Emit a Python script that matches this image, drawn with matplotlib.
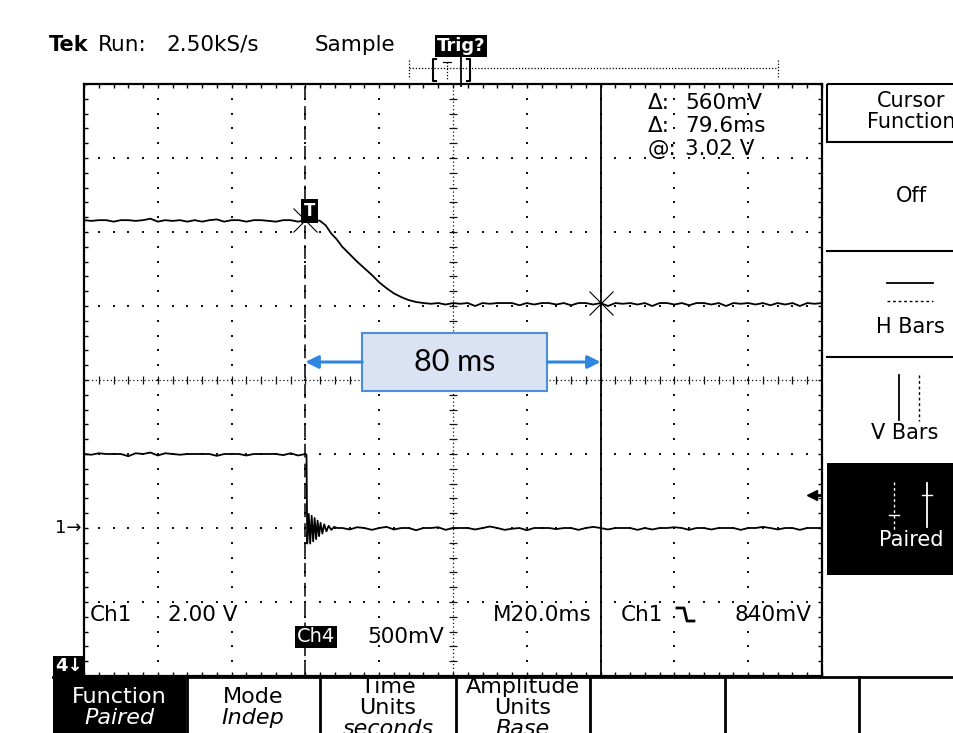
import numpy as np
import matplotlib.pyplot as plt
from matplotlib.patches import Rectangle

W, H = 954, 733

# --- waveform data ---
# Ch4 (500 mV/div, ground 5 div below centre), volts
ch4_pre = [3.58, 3.575, 3.58, 3.58, 3.57, 3.58, 3.58, 3.575, 3.58, 3.59,
           3.57, 3.58, 3.575, 3.58, 3.57, 3.58, 3.57, 3.58, 3.585, 3.57,
           3.58, 3.58, 3.57, 3.58, 3.58, 3.575, 3.57, 3.58, 3.58, 3.57]  # -60..-2 ms, 2 ms step
ch4_fall_t = [0, 2, 4, 5.5, 7, 8.5, 10, 12, 14, 16, 18, 20, 22, 24, 26, 28, 30, 32, 34, 36]
ch4_fall_v = [3.58, 3.585, 3.575, 3.545, 3.49, 3.45, 3.40, 3.35, 3.30, 3.255,
              3.21, 3.16, 3.12, 3.085, 3.06, 3.04, 3.027, 3.02, 3.015, 3.02]
ch4_post = [3.01, 3.02, 3.015, 3.02, 3.0, 3.02, 3.015, 3.02, 3.02, 3.02,
            3.005, 3.02, 3.01, 3.02, 3.02, 3.01, 3.02, 3.005, 3.02, 3.02,
            3.01, 3.02, 3.0, 3.02, 3.015, 3.02, 3.01, 3.02, 3.0, 3.02,
            3.02, 3.01, 3.02, 3.005, 3.02, 3.02, 3.01, 3.02, 3.0, 3.02,
            3.015, 3.02, 3.01, 3.02, 3.005, 3.02, 3.01, 3.02, 3.0, 3.02,
            3.015, 3.02]  # 38..140 ms

# Ch1 (2 V/div, ground 2 div below centre), volts
ch1_pre = [2.0, 1.98, 2.02, 2.0, 2.0, 2.0, 1.94, 2.02, 2.0, 2.04,
           1.96, 2.02, 2.0, 1.98, 2.0, 2.0, 2.0, 2.0, 1.95, 2.0,
           2.0, 2.0, 1.96, 2.0, 2.0, 2.0, 2.0, 1.97, 2.02, 1.96]  # -60..-2 ms
ch1_ring_t = [0, 0.3, 0.5, 0.9, 1.3, 1.7, 2.1, 2.5, 2.9, 3.3, 3.7, 4.1, 4.6, 5.1,
              5.7, 6.3, 7.0, 7.8, 8.6]
ch1_ring_v = [2.0, 1.98, -0.42, 0.38, -0.42, 0.33, -0.36, 0.27, -0.3, 0.2,
              -0.22, 0.14, -0.15, 0.1, -0.09, 0.06, -0.05, 0.03, 0.0]
ch1_post = [0.0, -0.04, 0.02, 0.0, -0.05, 0.0, 0.03, -0.04, 0.0, 0.0,
            -0.06, 0.0, 0.0, 0.02, -0.05, 0.0, 0.0, 0.0, -0.04, 0.0,
            0.04, 0.0, -0.05, -0.02, 0.0, -0.06, 0.0, 0.0, 0.0, -0.03,
            0.0, 0.0, -0.05, 0.0, 0.03, 0.0, -0.04, 0.0, 0.0, 0.0,
            -0.05, 0.0, -0.04, 0.0, 0.0, 0.02, 0.0, -0.05, 0.0, 0.0,
            -0.04, 0.0, 0.0, 0.0, -0.05, 0.0, 0.0, 0.03, 0.0, -0.04,
            0.0, 0.0, -0.05, 0.0, 0.0, 0.0]  # 10..140 ms

cursor_t = [0.0, 80.0]
cursor_v = [3.58, 3.02]
readout_sym = ["\u0394:", "\u0394:", "@:"]
readout_val = ["560mV", "79.6ms", "3.02 V"]
measured = "80 ms"

ch4_t = np.concatenate([-60 + 2 * np.arange(len(ch4_pre)), ch4_fall_t, 38 + 2 * np.arange(len(ch4_post))])
ch4_v = np.concatenate([ch4_pre, ch4_fall_v, ch4_post])
ch1_t = np.concatenate([-60 + 2 * np.arange(len(ch1_pre)), ch1_ring_t, 10 + 2 * np.arange(len(ch1_post))])
ch1_v = np.concatenate([ch1_pre, ch1_ring_v, ch1_post])

ch4_div = ch4_v / 0.5 - 5.0
ch1_div = ch1_v / 2.0 - 2.0

fig = plt.figure(figsize=(W / 100, H / 100), dpi=100)
fig.patch.set_facecolor("white")

# graticule: 10 x 8 divisions, 20 ms/div
ax = fig.add_axes([84 / W, (H - 676) / H, 738 / W, 592 / H])
ax.set_xlim(-60, 140)
ax.set_ylim(-4, 4)
for s in ax.spines.values():
    s.set_linewidth(1.6)
ax.set_xticks(np.arange(-60, 141, 20))
ax.set_yticks(np.arange(-4, 4.1, 1))
ax.set_xticks(np.arange(-60, 141, 4), minor=True)
ax.set_yticks(np.arange(-4, 4.1, 0.2), minor=True)
ax.tick_params(which="both", direction="in", top=True, right=True,
               labelbottom=False, labelleft=False, length=2.8, width=1)

dot = dict(ls="none", marker="s", ms=1.5, color="#111111", mew=0)
yd = np.arange(-3.8, 3.9, 0.2)
td = np.arange(-56, 137, 4)
for gx in [-40, -20, 0, 20, 60, 80, 100, 120]:
    ax.plot(np.full_like(yd, gx), yd, **dot)
for gy in [-3, -2, -1, 1, 2, 3]:
    ax.plot(td, np.full_like(td, gy, dtype=float), **dot)
# centre cross lines
ax.plot([40, 40], [-4, 4], ls=(0, (1, 2)), lw=0.9, color="#111111")
ax.plot(np.full_like(yd, 40), yd, ls="none", marker="_", ms=6, mew=0.9, color="#111111")
ax.plot([-60, 140], [0, 0], ls=(0, (1, 2)), lw=0.9, color="#111111")
ax.plot(td, np.zeros_like(td), ls="none", marker="|", ms=6, mew=0.9, color="#111111")

# traces
ax.plot(ch4_t, ch4_div, color="black", lw=1.3)
ax.plot(ch1_t, ch1_div, color="black", lw=1.3)

# cursors
ax.plot([cursor_t[0]] * 2, [-4, 4], color="black", lw=1.1, dashes=(9, 4))
ax.plot([cursor_t[1]] * 2, [-4, 4], color="black", lw=1.3)
ax.plot(cursor_t, np.array(cursor_v) / 0.5 - 5.0, ls="none", marker="x",
        ms=17, mew=0.8, color="black")

# trigger marker
ax.text(1.2, 2.28, "T", color="white", fontsize=12, fontweight="bold", ha="center",
        va="center", bbox=dict(facecolor="black", edgecolor="none", pad=2))

# blue measurement annotation
arrow_y = 0.243
ax.add_patch(Rectangle((15.4, -0.149), 50.2, 0.784, facecolor="#dae3f3",
                       edgecolor="#4a90d9", lw=1.5, zorder=5))
ax.text(40.5, arrow_y, measured, fontsize=22, family="Lato", ha="center",
        va="center", zorder=6)
ap = dict(arrowstyle="-|>", color="#2e86de", lw=2.2, mutation_scale=19,
          shrinkA=0, shrinkB=0)
ax.annotate("", xy=(cursor_t[0], arrow_y), xytext=(15.4, arrow_y), arrowprops=ap, zorder=6)
ax.annotate("", xy=(cursor_t[1], arrow_y), xytext=(65.6, arrow_y), arrowprops=ap, zorder=6)

# --- overlay in screen pixels for the surrounding scope UI ---
ov = fig.add_axes([0, 0, 1, 1], zorder=3)
ov.set_xlim(0, W)
ov.set_ylim(H, 0)
ov.axis("off")
ov.patch.set_alpha(0)


def tx(x, y, s, size=15.5, color="black", ha="left", **kw):
    ov.text(x, y, s, fontsize=size, color=color, ha=ha, va="center", **kw)


blk = dict(facecolor="black", edgecolor="none", pad=1.2)

# top status line
tx(49, 45, "Tek", 15, fontweight="bold")
tx(98, 45, "Run:", 15.5)
tx(166, 45, "2.50kS/s", 15.5)
tx(315, 45, "Sample", 15.5)
tx(437, 46, "Trig?", 13, color="white", fontweight="bold", bbox=blk)
ov.plot([409, 778], [68, 68], ls=(0, (1, 1.5)), lw=0.9, color="black")
ov.plot([409, 409], [60, 77], ls=(0, (1, 1.5)), lw=0.9, color="black")
ov.plot([778, 778], [60, 77], ls=(0, (1, 1.5)), lw=0.9, color="black")
ov.plot([436, 433, 433, 436], [59, 59, 81, 81], color="black", lw=1.5)
ov.plot([467, 470, 470, 467], [59, 59, 81, 81], color="black", lw=1.5)
ov.plot([447, 447], [62, 79], ls=(0, (1, 1.5)), lw=0.9, color="black")
ov.plot([443, 451], [62, 62], color="black", lw=0.9)
ov.plot([461, 461], [57, 86], color="black", lw=1.3)

# cursor readout
for i in range(len(readout_val)):
    tx(648, 103 + 23 * i, readout_sym[i])
    tx(685, 103 + 23 * i, readout_val[i])

# channel labels inside graticule
tx(90, 615, "Ch1")
tx(168, 615, "2.00 V")
tx(493, 615, "M20.0ms")
tx(621, 615, "Ch1")
ov.plot([677, 684, 687, 694], [608, 608, 621, 621], color="black", lw=2)
tx(735, 615, "840mV")
tx(297, 637, "Ch4", 14, color="white", bbox=blk)
tx(367, 637, "500mV")
tx(55, 528, "1\u2192", 13)
ov.add_patch(Rectangle((53, 656), 31, 21, facecolor="black", edgecolor="none"))
tx(55, 666, "4\u2193", 13, color="white", fontweight="bold")
ov.plot([812], [495], marker="<", ms=7, color="black")
ov.plot([812, 821], [495, 495], color="black", lw=2)

# right-hand menu
ov.add_patch(Rectangle((827, 84), 140, 58, facecolor="none", edgecolor="black", lw=1.5))
tx(911, 101, "Cursor", 15, ha="center")
tx(911, 122, "Function", 15, ha="center")
tx(911, 196, "Off", 15, ha="center")
ov.plot([827, 954], [251, 251], color="black", lw=1.5)
ov.plot([887, 933], [283, 283], color="black", lw=1.3)
ov.plot([887, 933], [301, 301], color="black", lw=1.0, ls=(0, (2, 2)))
tx(910, 327, "H Bars", 15, ha="center")
ov.plot([827, 954], [357, 357], color="black", lw=1.5)
ov.plot([899, 899], [375, 420], color="black", lw=1.3)
ov.plot([919, 919], [375, 421], color="black", lw=1.0, ls=(0, (2, 2)))
tx(905, 433, "V Bars", 15, ha="center")
ov.add_patch(Rectangle((827, 463), 140, 112, facecolor="black", edgecolor="none"))
ov.plot([894, 894], [482, 530], color="white", lw=1.0, ls=(0, (2, 2)))
ov.plot([889, 899], [515, 515], color="white", lw=1.0)
ov.plot([927, 927], [483, 527], color="white", lw=1.3)
ov.plot([922, 932], [495, 495], color="white", lw=1.0)
tx(911, 540, "Paired", 15, ha="center", color="white")

# bottom menu
ov.plot([53, 954], [677, 677], color="black", lw=2)
for sx in [187, 320, 456, 590, 725, 859]:
    ov.plot([sx, sx], [677, 740], color="black", lw=2)
ov.add_patch(Rectangle((53, 678), 133, 60, facecolor="black", edgecolor="none"))
tx(119, 697, "Function", 16, ha="center", color="white")
tx(119, 718, "Paired", 16, ha="center", color="white", style="italic")
tx(253, 697, "Mode", 16, ha="center")
tx(253, 718, "Indep", 16, ha="center", style="italic")
tx(388, 687, "Time", 16, ha="center")
tx(388, 708, "Units", 16, ha="center")
tx(388, 729, "seconds", 16, ha="center", style="italic")
tx(523, 687, "Amplitude", 16, ha="center")
tx(523, 708, "Units", 16, ha="center")
tx(523, 729, "Base", 16, ha="center", style="italic")

fig.savefig("out.png", dpi=100)
